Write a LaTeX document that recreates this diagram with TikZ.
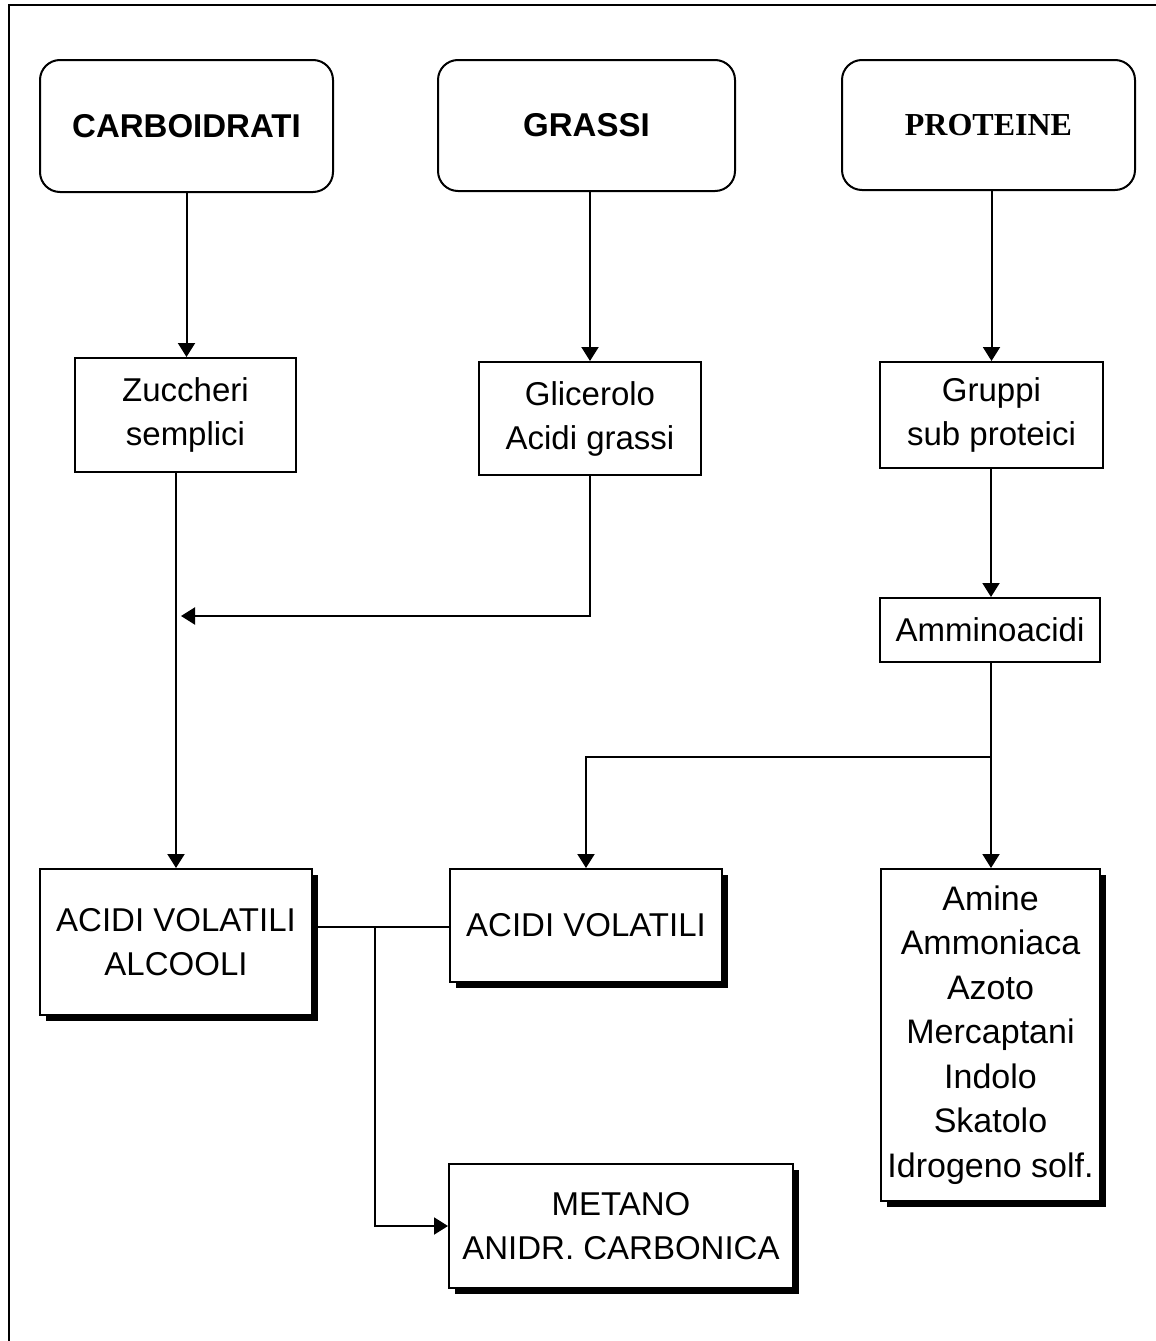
\documentclass[tikz,border=0pt]{standalone}
\usepackage{fontspec}
\setmainfont{Liberation Sans}
\newfontfamily\serifbold{Liberation Serif}
\usetikzlibrary{arrows.meta,shadows}
\begin{document}
\begin{tikzpicture}[x=1pt,y=-1pt,
  lw/.style={line width=2pt},
  topbox/.style={lw,draw,rounded corners=20pt,fill=white,align=center,inner sep=0pt,
     font=\fontsize{33}{44}\selectfont\bfseries},
  plainbox/.style={lw,draw,fill=white,align=center,inner sep=0pt,
     font=\fontsize{33}{44}\selectfont},
  shadowbox/.style={plainbox,drop shadow={shadow xshift=6pt,shadow yshift=-6pt,opacity=1,fill=black}},
  arr/.style={lw,-{Triangle[length=14pt,width=17pt]}},
  conn/.style={lw}]
\useasboundingbox (0,0) rectangle (1156,1341);
\draw[line width=2.6pt] (9,1341) -- (9,5) -- (1156,5);

\node[topbox,minimum width=293pt,minimum height=132pt] (carb) at (186.5,126) {CARBOIDRATI};
\node[topbox,minimum width=297pt,minimum height=131pt] (grassi) at (586.5,125.5) {GRASSI};
\node[topbox,minimum width=293pt,minimum height=130pt,font=\fontsize{32}{40}\selectfont\serifbold\bfseries] (prot) at (988.5,125) {PROTEINE};

\node[plainbox,minimum width=221pt,minimum height=114pt] (zucc) at (185.5,415) {Zuccheri\\semplici};
\node[plainbox,minimum width=222pt,minimum height=113pt] (glic) at (590,418.5) {Glicerolo\\Acidi grassi};
\node[plainbox,minimum width=223pt,minimum height=106pt] (grup) at (991.5,415) {Gruppi\\sub proteici};
\node[plainbox,minimum width=220pt,minimum height=64pt] (ammino) at (990,630) {Amminoacidi};

\node[shadowbox,minimum width=272pt,minimum height=146pt] (avalc) at (176,942) {ACIDI VOLATILI\\ALCOOLI};
\node[shadowbox,minimum width=272pt,minimum height=113pt] (av) at (586,925.5) {ACIDI VOLATILI};
\node[shadowbox,minimum width=219pt,minimum height=332pt,font=\fontsize{34}{44.5}\selectfont] (amine) at (990.5,1035)
  {Amine\\Ammoniaca\\Azoto\\Mercaptani\\Indolo\\Skatolo\\Idrogeno solf.};
\node[shadowbox,minimum width=344pt,minimum height=124pt] (metano) at (621,1226) {METANO\\ANIDR. CARBONICA};

\coordinate (g1) at (181,616);
\coordinate (br) at (991,757);
\coordinate (b2) at (375,927);

\draw[arr] (carb.south) -- (carb.south |- zucc.north);
\draw[arr] (grassi.south -| glic.north) -- (glic.north);
\draw[arr] (prot.south -| grup.north) -- (grup.north);
\draw[arr] (glic.south) |- (g1);
\draw[arr] (avalc.north |- zucc.south) -- (avalc.north);
\draw[arr] (grup.south -| br) -- (ammino.north -| br);
\draw[arr] (ammino.south -| br) -- (amine.north -| br);
\draw[arr] (br) -| (av.north);
\draw[conn] (avalc.east |- b2) -- (av.west |- b2);
\draw[arr] (b2) |- (metano.west);
\end{tikzpicture}
\end{document}
